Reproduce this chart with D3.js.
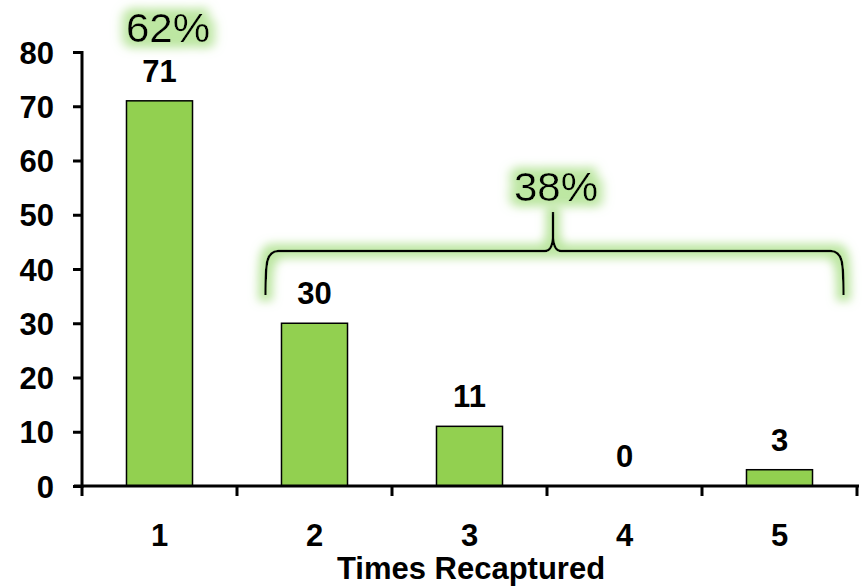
<!DOCTYPE html>
<html>
<head>
<meta charset="utf-8">
<script src="https://cdn.jsdelivr.net/npm/d3@7"></script>
<style>
  html, body { margin: 0; padding: 0; background: #fff; }
  svg { display: block; }
  text { font-family: "Liberation Sans", Arial, sans-serif; }
</style>
</head>
<body>
<svg id="chart" width="864" height="587"></svg>
<script>
// Recapture counts per number of times recaptured
const categories = ["1", "2", "3", "4", "5"];
const counts = [71, 30, 11, 0, 3];
const yTicks = [0, 10, 20, 30, 40, 50, 60, 70, 80];
const singleShare = "62%";
const repeatShare = "38%";
const xTitle = "Times Recaptured";

const svg = d3.select("#chart");
const FS = 31;    // axis / label font size

const defs = svg.append("defs");
const glow = defs.append("filter").attr("id", "glow")
  .attr("x", "-30%").attr("y", "-60%").attr("width", "160%").attr("height", "220%");
glow.append("feMorphology").attr("in", "SourceAlpha").attr("operator", "dilate").attr("radius", 6).attr("result", "d");
glow.append("feGaussianBlur").attr("in", "d").attr("stdDeviation", 5).attr("result", "b");
glow.append("feFlood").attr("flood-color", "#b9e59d").attr("flood-opacity", 0.95);
glow.append("feComposite").attr("in2", "b").attr("operator", "in").attr("result", "g");
const m = glow.append("feMerge");
m.append("feMergeNode").attr("in", "g");
m.append("feMergeNode").attr("in", "SourceGraphic");

const x = d3.scaleBand().domain(categories).range([82, 857])
  .paddingInner(0.574).paddingOuter(0.287);
const y = d3.scaleLinear().domain([0, 80]).range([486, 52]);

// bars
svg.append("g").selectAll("rect").data(counts).join("rect")
  .attr("x", (d, i) => x(categories[i]))
  .attr("y", d => y(d))
  .attr("width", x.bandwidth())
  .attr("height", d => y(0) - y(d))
  .attr("fill", "#92d050")
  .attr("stroke", "#000")
  .attr("stroke-width", 1.5);

// value labels
svg.append("g").selectAll("text").data(counts).join("text")
  .attr("x", (d, i) => x(categories[i]) + x.bandwidth() / 2)
  .attr("y", d => y(d) - 19)
  .attr("text-anchor", "middle")
  .attr("font-weight", "bold").attr("font-size", FS)
  .text(d => d);

// y axis
const yAxis = svg.append("g").attr("transform", "translate(82,0)")
  .call(d3.axisLeft(y).tickValues(yTicks).tickSize(9).tickPadding(19).tickFormat(d3.format("d")));
yAxis.select(".domain").attr("stroke-width", 3).attr("d", `M0,${y(80) - 1}V${y(0) + 2}`);
yAxis.selectAll(".tick line").attr("stroke-width", 3);
yAxis.selectAll(".tick text")
  .attr("dy", "0.36em")
  .attr("font-size", FS).attr("font-weight", "bold").attr("fill", "#000")
  .attr("font-family", "Liberation Sans, Arial, sans-serif");

// x axis: ticks sit on the category boundaries
const edges = categories.map(c => x(c) - x.step() * 0.287).concat([857]);
const xa = svg.append("g").attr("transform", `translate(0,${y(0)})`);
xa.append("line").attr("x1", 74).attr("x2", 859).attr("stroke", "#000").attr("stroke-width", 3);
xa.selectAll("line.t").data(edges).join("line").attr("class", "t")
  .attr("x1", d => d).attr("x2", d => d).attr("y1", 0).attr("y2", 10)
  .attr("stroke", "#000").attr("stroke-width", 3);
xa.selectAll("text").data(categories).join("text")
  .attr("x", d => x(d) + x.bandwidth() / 2)
  .attr("y", 60)
  .attr("text-anchor", "middle").attr("font-weight", "bold").attr("font-size", FS)
  .text(d => d);

svg.append("text")
  .attr("x", 471).attr("y", 579)
  .attr("text-anchor", "middle").attr("font-weight", "bold").attr("font-size", FS)
  .text(xTitle);

// share annotations
svg.append("text")
  .attr("transform", `translate(168,42) scale(1.05,1)`)
  .attr("text-anchor", "middle").attr("font-size", 40)
  .attr("filter", "url(#glow)")
  .text(singleShare);

const bx0 = x("2") - 16, bx1 = x("5") + x.bandwidth() + 31, bmid = 553, by = 251;
svg.append("path")
  .attr("d", `M${bx0},295 C${bx0},262 ${bx0 + 1},${by} ${bx0 + 13},${by} L${bmid - 8},${by} Q${bmid - 1},${by} ${bmid},${by - 13} L${bmid},212 M${bmid},${by - 13} Q${bmid + 1},${by} ${bmid + 8},${by} L${bx1 - 13},${by} C${bx1 - 1},${by} ${bx1},262 ${bx1},295`)
  .attr("fill", "none").attr("stroke", "#000").attr("stroke-width", 2.5)
  .attr("filter", "url(#glow)");

svg.append("text")
  .attr("transform", `translate(556,201) scale(1.05,1)`)
  .attr("text-anchor", "middle").attr("font-size", 40)
  .attr("filter", "url(#glow)")
  .text(repeatShare);
</script>
</body>
</html>
